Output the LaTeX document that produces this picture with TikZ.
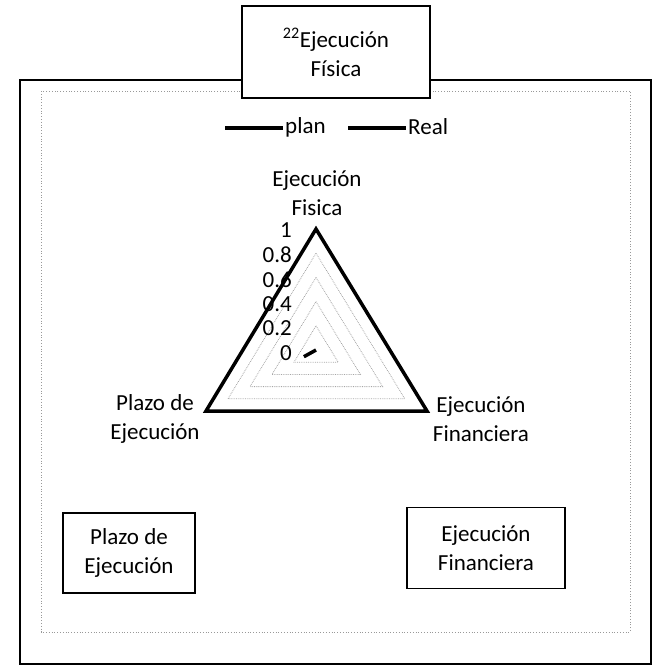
\documentclass[tikz,border=0pt]{standalone}
\usepackage{fontspec}
\setmainfont{Carlito}
\usetikzlibrary{calc}
\tikzset{
  outerframe/.style={draw=black, line width=1.6pt},
  innerframe/.style={draw=gray!80, dotted, line width=0.8pt},
  boxnode/.style={draw=black, line width=1.2pt, fill=white, align=center, inner sep=0pt},
  lbl/.style={align=center, inner sep=0pt},
  gridline/.style={draw=gray!70, densely dotted, line width=0.8pt},
  series/.style={draw=black, line width=3.5pt, line join=miter},
  ticklbl/.style={anchor=east, inner sep=0pt}
}
\begin{document}
\begin{tikzpicture}[x=1pt, y=-1pt, font=\fontsize{23}{29}\selectfont]
\useasboundingbox (0,0) rectangle (653,670);
% frames
\draw[outerframe] (20,80) rectangle (651,664);
\draw[innerframe] (41,91) rectangle (630,632);
% title box
\node[boxnode, minimum width=188pt, minimum height=92pt] (title) at (336,52) {\textsuperscript{22}Ejecución\\Física};
% legend
\coordinate (pa) at (225,128);
\coordinate (pb) at (283,128);
\coordinate (ra) at (348,128);
\coordinate (rb) at (406,128);
\draw[series] (pa) -- (pb);
\draw[series] (ra) -- (rb);
\node[lbl, anchor=west] (plan) at (285,127) {plan};
\node[lbl, anchor=west] (real) at (408,127) {Real};
% radar geometry
\coordinate (c) at (316,350);
\coordinate (vF) at (316,229);
\coordinate (vP) at (206,411);
\coordinate (vR) at (427,411);
\foreach \k in {0.2,0.4,0.6,0.8}{
  \draw[gridline] ($(c)!\k!(vF)$) -- ($(c)!\k!(vR)$) -- ($(c)!\k!(vP)$) -- cycle;
}
% plan series
\draw[series] (vF) -- (vR) -- (vP) -- cycle;
% real series
\coordinate (rp) at ($(c)!0.11!(vP)$);
\draw[series] (c) -- (rp);
% tick labels
\node[ticklbl] (t10) at (292,230) {1};
\node[ticklbl] (t08) at (292,255) {0.8};
\node[ticklbl] (t06) at (292,280) {0.6};
\node[ticklbl] (t04) at (292,304) {0.4};
\node[ticklbl] (t02) at (292,328) {0.2};
\node[ticklbl] (t00) at (292,353) {0};
% category labels
\node[lbl] (catF) at (317,193) {Ejecución\\Fisica};
\node[lbl] (catP) at (155,419) {Plazo de\\Ejecución};
\node[lbl] (catR) at (481,419) {Ejecución\\Financiera};
% bottom boxes
\node[boxnode, minimum width=132pt, minimum height=80pt] (boxP) at (129,553) {Plazo de\\Ejecución};
\node[boxnode, minimum width=158pt, minimum height=81pt] (boxR) at (486,548) {Ejecución\\Financiera};
\end{tikzpicture}
\end{document}
